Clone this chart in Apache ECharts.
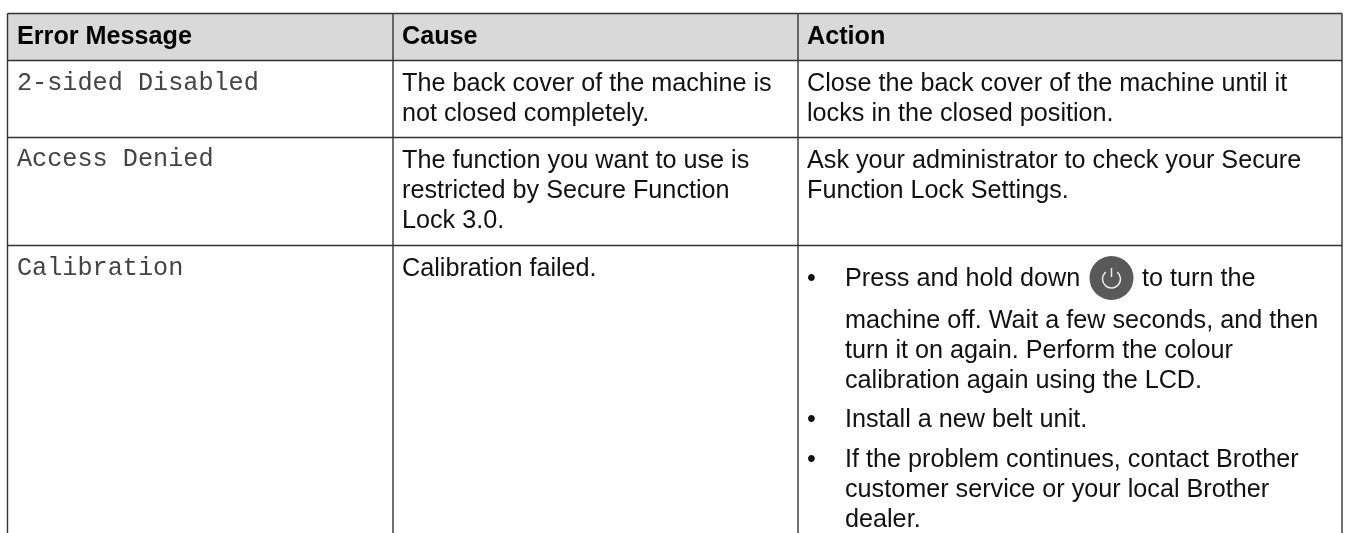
<!DOCTYPE html>
<html><head><meta charset="utf-8">
<style>html,body{margin:0;padding:0;background:#fff}#c{width:1347px;height:533px}</style>
<script src="https://cdn.jsdelivr.net/npm/echarts@6/dist/echarts.min.js"></script>
</head><body><div id="c"></div>
<script>
// Table content
const headers = ["Error Message", "Cause", "Action"];
const errorMessages = ["2-sided Disabled", "Access Denied", "Calibration"];
const causes = [
  ["The back cover of the machine is", "not closed completely."],
  ["The function you want to use is", "restricted by Secure Function", "Lock 3.0."],
  ["Calibration failed."]
];
const actionPlain = [
  ["Close the back cover of the machine until it", "locks in the closed position."],
  ["Ask your administrator to check your Secure", "Function Lock Settings."]
];
const actionBullets = [
  ["Press and hold down", "machine off. Wait a few seconds, and then", "turn it on again. Perform the colour", "calibration again using the LCD."],
  ["Install a new belt unit."],
  ["If the problem continues, contact Brother", "customer service or your local Brother", "dealer."]
];
const inlineAfterIcon = "to turn the";

// Layout (page units on hidden axes)
const colX = [7.5, 393, 798, 1342];
const rowY = [13.5, 60.5, 137.5, 245.5, 533];
const textX = [17, 402, 807];
const bulletDotX = 807, bulletTextX = 845, iconX = 1111.5, iconY = 278, inlineX = 1142;
const headerY = 37;
const causeY = [[84, 114], [161, 191, 221], [269]];
const actionPlainY = [[84, 114], [161, 191]];
const bulletY = [[279, 321, 351, 381], [420], [460.5, 490.5, 520.5]];
const msgY = [83.5, 159.5, 268.5];

const SANS = '"Liberation Sans", Arial, sans-serif', MONO = '"Liberation Mono", "Courier New", monospace';

const textRows = [];
const add = (s, x, y, kind) => textRows.push([x, y, s, kind]);
headers.forEach((h, i) => add(h, textX[i], headerY, 'head'));
errorMessages.forEach((m, i) => add(m, textX[0], msgY[i], 'mono'));
causes.forEach((ls, r) => ls.forEach((l, k) => add(l, textX[1], causeY[r][k], 'body')));
actionPlain.forEach((ls, r) => ls.forEach((l, k) => add(l, textX[2], actionPlainY[r][k], 'body')));
actionBullets.forEach((ls, r) => {
  add('•', bulletDotX, bulletY[r][0], 'body');
  ls.forEach((l, k) => add(l, bulletTextX, bulletY[r][k], 'body'));
});
add(inlineAfterIcon, inlineX, bulletY[0][0], 'body');

const styleOf = {
  head: {font: 'bold 25.2px ' + SANS, fill: '#000'},
  body: {font: '25.2px ' + SANS, fill: '#111'},
  mono: {font: '25.2px ' + MONO, fill: '#444'}
};

const ruleRows = [];
colX.forEach(x => ruleRows.push([x, rowY[0], x, rowY[4]]));
rowY.slice(0, 4).forEach(y => ruleRows.push([colX[0], y, colX[3], y]));

const chart = echarts.init(document.getElementById('c'), null, {renderer: 'canvas'});
chart.setOption({
  animation: false,
  backgroundColor: '#fff',
  grid: {left: 0, right: 0, top: 0, bottom: 0},
  xAxis: {type: 'value', min: 0, max: 1347, show: false},
  yAxis: {type: 'value', min: 0, max: 533, inverse: true, show: false},
  tooltip: {show: false},
  series: [
    { type: 'custom', coordinateSystem: 'cartesian2d', silent: true, clip: false, z: 1,
      data: [[colX[0], rowY[0], colX[3], rowY[1]]],
      renderItem(p, api) {
        const a = api.coord([api.value(0), api.value(1)]), b = api.coord([api.value(2), api.value(3)]);
        return {type: 'rect', shape: {x: a[0], y: a[1], width: b[0] - a[0], height: b[1] - a[1]}, style: {fill: '#d9d9d9'}};
      }
    },
    { type: 'custom', coordinateSystem: 'cartesian2d', silent: true, clip: false, z: 2,
      data: ruleRows,
      renderItem(p, api) {
        const a = api.coord([api.value(0), api.value(1)]), b = api.coord([api.value(2), api.value(3)]);
        return {type: 'line', shape: {x1: a[0], y1: a[1], x2: b[0], y2: b[1]}, style: {stroke: '#333', lineWidth: 1.4}};
      }
    },
    { type: 'custom', coordinateSystem: 'cartesian2d', silent: true, clip: false, z: 3,
      data: [[iconX, iconY]],
      renderItem(p, api) {
        const c = api.coord([api.value(0), api.value(1)]);
        return {type: 'group', children: [
          {type: 'circle', shape: {cx: c[0], cy: c[1], r: 22}, style: {fill: '#595959'}},
          {type: 'arc', shape: {cx: c[0], cy: c[1] + 1, r: 9, startAngle: -Math.PI / 2 + 0.7, endAngle: -Math.PI / 2 - 0.7 + 2 * Math.PI},
            style: {stroke: '#eee', fill: 'none', lineWidth: 1.5}},
          {type: 'line', shape: {x1: c[0], y1: c[1] - 10, x2: c[0], y2: c[1] - 1}, style: {stroke: '#eee', lineWidth: 1.5}}
        ]};
      }
    },
    { type: 'custom', coordinateSystem: 'cartesian2d', silent: true, clip: false, z: 4,
      data: textRows,
      encode: {x: 0, y: 1},
      renderItem(p, api) {
        const row = textRows[p.dataIndex];
        const c = api.coord([row[0], row[1]]);
        const st = styleOf[row[3]];
        return {type: 'text', style: {x: c[0], y: c[1], text: row[2], font: st.font, fill: st.fill, textAlign: 'left', textVerticalAlign: 'middle'}};
      }
    }
  ]
});
</script></body></html>
